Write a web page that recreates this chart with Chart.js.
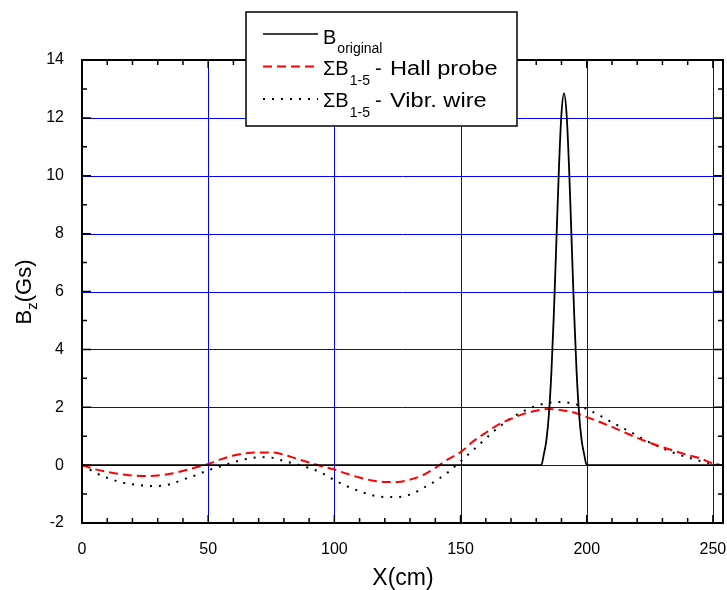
<!DOCTYPE html>
<html>
<head>
<meta charset="utf-8">
<script src="https://cdn.jsdelivr.net/npm/chart.js@4.4.0/dist/chart.umd.min.js"></script>
<style>
  html, body { margin: 0; padding: 0; background: #fff; }
  #wrap { width: 727px; height: 590px; position: relative; }
</style>
</head>
<body>
<div id="wrap"><canvas id="c" width="727" height="590"></canvas></div>
<script>
// ---- data ----
const origX = [0, 182, 183, 184, 185, 186, 187, 188, 189, 190, 191, 192, 193, 194, 195, 196, 197, 198, 199, 200, 254];
const origY = [0, 0, 0.37, 0.85, 1.74, 3.2, 5.28, 7.79, 10.29, 12.16, 12.85, 12.16, 10.29, 7.79, 5.28, 3.2, 1.74, 0.85, 0.37, 0, 0];

const hallX = [0, 5, 10, 15, 20, 25, 30, 35, 40, 45, 50, 55, 60, 65, 70, 75, 80, 85, 90, 95, 100, 105, 110, 115, 120, 125, 130, 135, 140, 145, 150, 155, 160, 165, 170, 175, 180, 185, 190, 195, 200, 205, 210, 215, 220, 225, 230, 235, 240, 245, 250, 253];
const hallY = [0, -0.14, -0.23, -0.31, -0.36, -0.38, -0.36, -0.3, -0.2, -0.08, 0.04, 0.2, 0.33, 0.41, 0.44, 0.44, 0.36, 0.22, 0.09, -0.04, -0.15, -0.3, -0.43, -0.53, -0.58, -0.58, -0.5, -0.35, -0.1, 0.2, 0.45, 0.82, 1.12, 1.4, 1.6, 1.77, 1.88, 1.94, 1.9, 1.82, 1.66, 1.5, 1.32, 1.13, 0.94, 0.77, 0.62, 0.48, 0.35, 0.23, 0.06, 0];

const vibrX = [0, 5, 10, 15, 20, 25, 30, 35, 40, 45, 50, 55, 60, 65, 70, 75, 80, 85, 90, 95, 100, 105, 110, 115, 120, 125, 130, 135, 140, 145, 150, 155, 160, 165, 170, 175, 180, 185, 190, 195, 200, 205, 210, 215, 220, 225, 230, 235, 240, 245, 250, 253];
const vibrY = [0, -0.25, -0.44, -0.58, -0.66, -0.71, -0.72, -0.66, -0.5, -0.35, -0.18, -0.04, 0.1, 0.21, 0.27, 0.26, 0.14, 0.03, -0.1, -0.27, -0.52, -0.73, -0.9, -1.04, -1.1, -1.1, -1.02, -0.8, -0.55, -0.25, 0.13, 0.52, 0.92, 1.3, 1.62, 1.87, 2.05, 2.15, 2.18, 2.12, 1.94, 1.72, 1.48, 1.25, 1.02, 0.78, 0.58, 0.41, 0.27, 0.14, 0.04, 0];

const xTicks = [0, 50, 100, 150, 200, 250];
const yTicks = [-2, 0, 2, 4, 6, 8, 10, 12, 14];
const xMinor = [10, 20, 30, 40, 60, 70, 80, 90, 110, 120, 130, 140, 160, 170, 180, 190, 210, 220, 230, 240];
const yMinor = [-1, 1, 3, 5, 7, 9, 11, 13];

const FONT = '"Liberation Sans", Arial, Helvetica, sans-serif';

function pts(xs, ys) { return xs.map((x, i) => ({ x: x, y: ys[i] })); }

function wideText(ctx, text, x, y, sx) {
  // draws text slightly widened horizontally, like the reference legend
  ctx.save();
  ctx.translate(x, y);
  ctx.scale(sx, 1);
  ctx.fillText(text, 0, 0);
  ctx.restore();
}

const framePlugin = {
  id: 'frame',
  beforeDatasetsDraw(chart) {
    const { ctx, chartArea: a, scales: { x, y } } = chart;
    ctx.save();
    ctx.strokeStyle = '#0000ff';
    ctx.lineWidth = 1;
    ctx.beginPath();
    xTicks.forEach(v => {
      const px = Math.round(x.getPixelForValue(v)) + 0.5;
      if (px > a.left + 2 && px < a.right - 2) { ctx.moveTo(px, a.top); ctx.lineTo(px, a.bottom); }
    });
    yTicks.forEach(v => {
      const py = Math.round(y.getPixelForValue(v)) + 0.5;
      if (py > a.top + 2 && py < a.bottom - 2) { ctx.moveTo(a.left, py); ctx.lineTo(a.right, py); }
    });
    ctx.stroke();
    ctx.restore();
  },
  afterDatasetsDraw(chart) {
    const { ctx, chartArea: a, scales: { x, y } } = chart;
    ctx.save();
    ctx.strokeStyle = '#000';
    ctx.lineWidth = 1.5;
    ctx.beginPath();
    const tick = (vals, len, horiz) => {
      vals.forEach(v => {
        if (horiz) {
          const px = x.getPixelForValue(v);
          ctx.moveTo(px, a.bottom); ctx.lineTo(px, a.bottom - len);
          ctx.moveTo(px, a.top); ctx.lineTo(px, a.top + len);
        } else {
          const py = y.getPixelForValue(v);
          ctx.moveTo(a.left, py); ctx.lineTo(a.left + len, py);
          ctx.moveTo(a.right, py); ctx.lineTo(a.right - len, py);
        }
      });
    };
    tick(xTicks, 8, true);
    tick(xMinor, 5, true);
    tick(yTicks, 9, false);
    tick(yMinor, 5, false);
    ctx.stroke();
    ctx.lineWidth = 2;
    ctx.strokeRect(a.left, a.top, a.right - a.left, a.bottom - a.top);
    ctx.restore();
  },
  afterDraw(chart) {
    const ctx = chart.ctx;
    ctx.save();
    // legend box
    ctx.fillStyle = '#fff';
    ctx.fillRect(246, 12, 271, 114);
    ctx.strokeStyle = '#000';
    ctx.lineWidth = 1.5;
    ctx.strokeRect(246, 12, 271, 114);

    const rows = [
      { y: 34, color: '#000', dash: [], w: 1.5, main: 'B', sub: 'original', rest: '', base: 44, subBase: 53 },
      { y: 66.5, color: '#ff0000', dash: [9, 5], w: 2, main: '\u03A3B', sub: '1-5', rest: 'Hall probe', base: 75, subBase: 85 },
      { y: 99, color: '#000', dash: [2, 7], w: 2, main: '\u03A3B', sub: '1-5', rest: 'Vibr. wire', base: 107, subBase: 117 }
    ];
    rows.forEach(r => {
      ctx.beginPath();
      ctx.setLineDash(r.dash);
      ctx.strokeStyle = r.color;
      ctx.lineWidth = r.w;
      ctx.moveTo(263, r.y); ctx.lineTo(318, r.y);
      ctx.stroke();
      ctx.setLineDash([]);
      ctx.fillStyle = '#000';
      ctx.textBaseline = 'alphabetic';
      ctx.textAlign = 'left';
      ctx.font = '20px ' + FONT;
      let px = 323;
      ctx.fillText(r.main, px, r.base);
      px += ctx.measureText(r.main).width;
      ctx.font = '14px ' + FONT;
      ctx.fillText(r.sub, px + 1, r.subBase);
      if (r.rest) {
        ctx.font = '20px ' + FONT;
        ctx.fillText('-', 375, r.base);
        wideText(ctx, r.rest, 390, r.base, 1.18);
      }
    });

    // x axis title
    ctx.font = '23px ' + FONT;
    ctx.textAlign = 'center';
    ctx.fillText('X(cm)', 403, 585);

    // y axis title with subscript
    ctx.translate(31, 292);
    ctx.rotate(-Math.PI / 2);
    ctx.textAlign = 'left';
    ctx.font = '22px ' + FONT;
    const wB = ctx.measureText('B').width;
    ctx.font = '15px ' + FONT;
    const wz = ctx.measureText('z').width;
    ctx.font = '22px ' + FONT;
    const wG = ctx.measureText('(Gs)').width;
    let sx = -(wB + wz + wG) / 2;
    ctx.fillText('B', sx, 0);
    sx += wB;
    ctx.font = '15px ' + FONT;
    ctx.fillText('z', sx, 6);
    sx += wz;
    ctx.font = '22px ' + FONT;
    ctx.fillText('(Gs)', sx, 0);
    ctx.restore();
  }
};

new Chart(document.getElementById('c'), {
  type: 'scatter',
  data: {
    datasets: [
      { label: 'B original', data: pts(origX, origY), showLine: true, borderColor: '#000', borderWidth: 1.8, pointRadius: 0, cubicInterpolationMode: 'monotone', order: 0 },
      { label: 'ΣB1-5 - Hall probe', data: pts(hallX, hallY), showLine: true, borderColor: '#ff0000', borderWidth: 2, borderDash: [9, 5], pointRadius: 0, cubicInterpolationMode: 'monotone', order: 1 },
      { label: 'ΣB1-5 - Vibr. wire', data: pts(vibrX, vibrY), showLine: true, borderColor: '#000', borderWidth: 2, borderDash: [2, 7], pointRadius: 0, cubicInterpolationMode: 'monotone', order: 2 }
    ]
  },
  options: {
    responsive: false,
    animation: false,
    events: [],
    layout: { padding: { top: 60, right: 4, left: 0, bottom: 0 } },
    plugins: { legend: { display: false }, tooltip: { enabled: false } },
    scales: {
      x: {
        type: 'linear', min: 0, max: 254,
        grid: { display: false }, border: { display: false },
        afterBuildTicks: s => { s.ticks = xTicks.map(v => ({ value: v })); },
        afterFit: s => { s.height = 67; s.paddingLeft = 0; s.paddingRight = 0; },
        ticks: { color: '#000', font: { family: FONT, size: 16 }, padding: 9, maxRotation: 0, autoSkip: false }
      },
      y: {
        type: 'linear', min: -2, max: 14,
        grid: { display: false }, border: { display: false },
        afterBuildTicks: s => { s.ticks = yTicks.map(v => ({ value: v })); },
        afterFit: s => { s.width = 82; s.paddingTop = 0; s.paddingBottom = 0; },
        ticks: { color: '#000', font: { family: FONT, size: 16 }, padding: 10, autoSkip: false }
      }
    }
  },
  plugins: [framePlugin]
});
</script>
</body>
</html>
